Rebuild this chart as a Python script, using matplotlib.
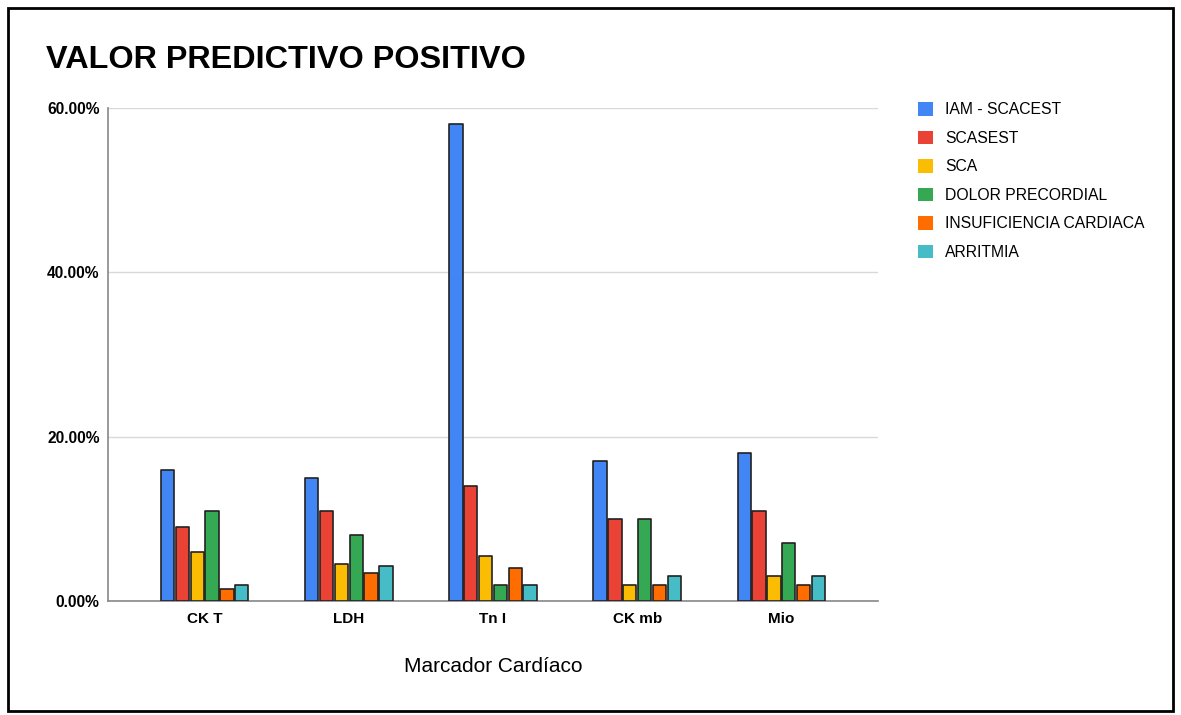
import matplotlib.pyplot as plt
import numpy as np
from matplotlib.patches import Rectangle
from matplotlib.ticker import FuncFormatter

plt.rcParams['font.family'] = ['Liberation Sans', 'DejaVu Sans']

markers = ['CK T', 'LDH', 'Tn I', 'CK mb', 'Mio']
series = ['IAM - SCACEST', 'SCASEST', 'SCA', 'DOLOR PRECORDIAL',
          'INSUFICIENCIA CARDIACA', 'ARRITMIA']
colors = ['#4285F4', '#EA4335', '#FBBC04', '#34A853', '#FF6D01', '#46BDC6']

iam = [16.0, 15.0, 58.0, 17.0, 18.0]
scasest = [9.0, 11.0, 14.0, 10.0, 11.0]
sca = [6.0, 4.5, 5.5, 2.0, 3.1]
dolor = [11.0, 8.0, 2.0, 10.0, 7.0]
insuf = [1.5, 3.4, 4.0, 2.0, 2.0]
arritmia = [2.0, 4.3, 2.0, 3.1, 3.1]
values = [iam, scasest, sca, dolor, insuf, arritmia]

fig = plt.figure(figsize=(11.81, 7.15), dpi=100)
ax = fig.add_axes([108 / 1181, 1 - 601 / 715, 770 / 1181, 493 / 715])

x = np.arange(len(markers))
w = 0.103
for i, (name, vals) in enumerate(zip(series, values)):
    ax.bar(x + (i - 2.5) * w, vals, width=w * 0.9, color=colors[i],
           edgecolor='#222222', linewidth=1.2, joinstyle='round',
           label=name, zorder=3)

ax.set_xlim(-0.67, len(markers) - 0.33)
ax.set_ylim(0, 60)
ax.set_yticks([0, 20, 40, 60])
ax.yaxis.set_major_formatter(FuncFormatter(lambda v, p: f'{v:.2f}%'))
ax.set_xticks(x)
ax.set_xticklabels(markers, fontweight='bold', fontsize=11)
for t in ax.get_yticklabels():
    t.set_fontweight('bold')
    t.set_fontsize(11.2)
ax.tick_params(length=0, pad=6)
ax.tick_params(axis='x', pad=8)
ax.grid(axis='y', color='#d9d9d9', linewidth=1, zorder=0)
for s in ['top', 'right']:
    ax.spines[s].set_visible(False)
for s in ['left', 'bottom']:
    ax.spines[s].set_color('#888888')
    ax.spines[s].set_linewidth(1.2)

ax.set_xlabel('Marcador Cardíaco', fontsize=15, labelpad=22)

fig.text(46 / 1181, 1 - 60 / 715, 'VALOR PREDICTIVO POSITIVO', fontsize=23.3,
         fontweight='bold', va='center', ha='left')

handles, labels = ax.get_legend_handles_labels()
leg = fig.legend(handles, labels, loc='upper left',
                 bbox_to_anchor=(904 / 1181, 1 - 88 / 715), frameon=False,
                 fontsize=11.3, handlelength=0.95, handleheight=0.95,
                 labelspacing=0.85, handletextpad=0.75)
for h in leg.legend_handles:
    h.set_edgecolor('none')

fig.patches.append(Rectangle((8 / 1181, 4 / 715), 1165 / 1181, 703 / 715,
                             transform=fig.transFigure, fill=False,
                             edgecolor='black', linewidth=2))

fig.savefig('out.png', dpi=100)
